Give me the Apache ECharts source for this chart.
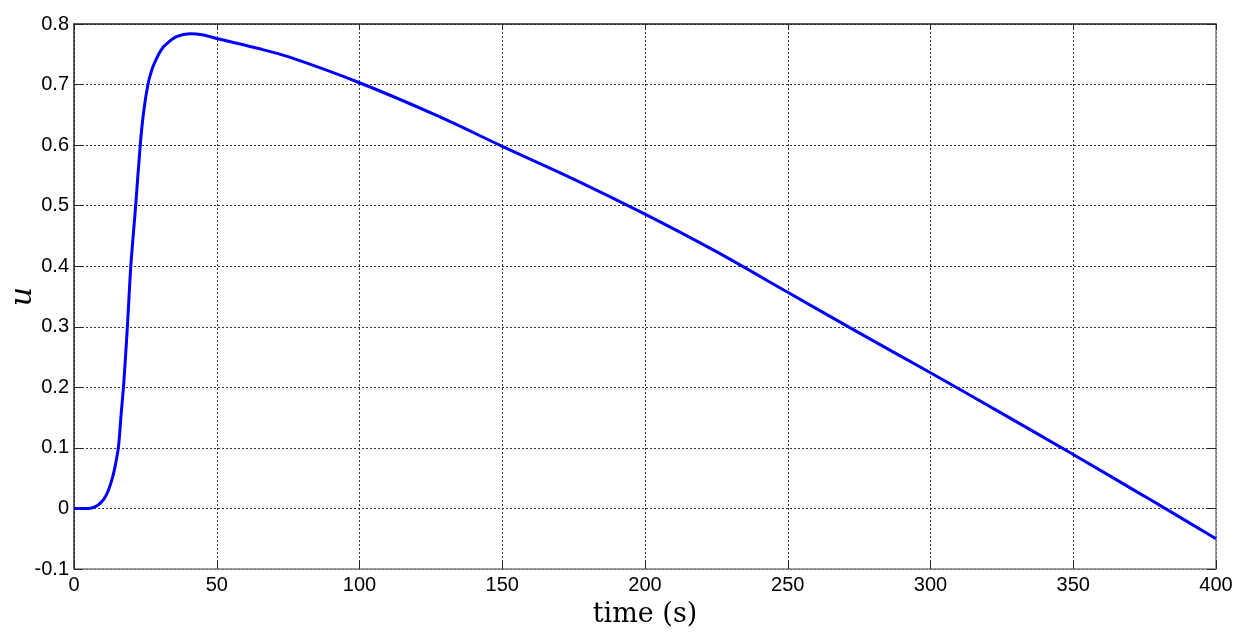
<!DOCTYPE html>
<html>
<head>
<meta charset="utf-8">
<script src="https://cdn.jsdelivr.net/npm/echarts@6/dist/echarts.min.js"></script>
<style>html,body{margin:0;padding:0;background:#fff;}#c{width:1256px;height:642px;}</style>
</head>
<body>
<div id="c"></div>
<script>
// time (s)
const times = [0, 5, 7.5, 9.5, 11.3, 13, 14.2, 15.6, 16.5, 17.4, 18.7, 19.9, 21.6, 23.2, 24.4, 25.9, 27.3, 28.9, 30.5, 32.4, 35.9, 40.6, 45.3, 50, 65, 75, 100, 128, 150, 175, 200, 225, 250, 275, 300, 325, 350, 375, 400];
// u
const uValues = [0, 0, 0.003, 0.01, 0.022, 0.043, 0.065, 0.103, 0.155, 0.205, 0.3, 0.4, 0.5, 0.6, 0.655, 0.7, 0.725, 0.743, 0.757, 0.767, 0.779, 0.784, 0.782, 0.776, 0.759, 0.746, 0.703, 0.647, 0.598, 0.544, 0.486, 0.424, 0.357, 0.29, 0.224, 0.157, 0.089, 0.02, -0.05];
const xLabel = 'time (s)';
const yLabel = 'u';

const data = times.map((t, i) => [t, uValues[i]]);
const chart = echarts.init(document.getElementById('c'));
const dark = '#262626', gray = '#808080';
const tickFont = { fontFamily: 'Liberation Sans, Arial, sans-serif', fontSize: 20, color: '#000' };
chart.setOption({
  animation: false,
  backgroundColor: '#fff',
  grid: { left: 74, right: 40, top: 24, bottom: 73, containLabel: false, outerBoundsMode: 'none' },
  xAxis: [{
    type: 'value', min: 0, max: 400, interval: 50, position: 'bottom',
    name: xLabel, nameLocation: 'middle', nameGap: 32, nameMoveOverlap: false,
    nameTextStyle: { fontFamily: 'DejaVu Serif, serif', fontSize: 27, color: '#000' },
    axisLine: { show: true, onZero: false, lineStyle: { color: gray, width: 1.5 } },
    axisTick: { show: true, inside: true, length: 9, lineStyle: { color: dark } },
    axisLabel: Object.assign({ margin: 6 }, tickFont),
    splitLine: { show: true, lineStyle: { color: '#333', type: [2, 2], width: 1 } }
  }, {
    type: 'value', min: 0, max: 400, interval: 50, position: 'top',
    axisLine: { show: true, onZero: false, lineStyle: { color: dark, width: 1.5 } },
    axisTick: { show: true, inside: true, length: 6, lineStyle: { color: dark } },
    axisLabel: { show: false }, splitLine: { show: false }
  }],
  yAxis: [{
    type: 'value', min: -0.1, max: 0.8, interval: 0.1, position: 'left',
    name: yLabel, nameLocation: 'middle', nameGap: 36, nameRotate: 90, nameMoveOverlap: false,
    nameTextStyle: { fontFamily: 'DejaVu Serif, serif', fontStyle: 'italic', fontSize: 30, color: '#000' },
    axisLine: { show: true, onZero: false, lineStyle: { color: dark, width: 1.5 } },
    axisTick: { show: true, inside: true, length: 9, lineStyle: { color: dark } },
    axisLabel: Object.assign({ margin: 5, formatter: v => Math.abs(v) < 1e-9 ? '0' : v.toFixed(1) }, tickFont),
    splitLine: { show: true, lineStyle: { color: '#333', type: [2, 2], width: 1 } }
  }, {
    type: 'value', min: -0.1, max: 0.8, interval: 0.1, position: 'right',
    axisLine: { show: true, onZero: false, lineStyle: { color: gray, width: 1.5 } },
    axisTick: { show: true, inside: true, length: 9, lineStyle: { color: dark } },
    axisLabel: { show: false }, splitLine: { show: false }
  }],
  series: [{
    type: 'line', data: data, xAxisIndex: 0, yAxisIndex: 0,
    showSymbol: false, smooth: 0.3,
    lineStyle: { color: '#0000ff', width: 3 }
  }]
});
</script>
</body>
</html>
